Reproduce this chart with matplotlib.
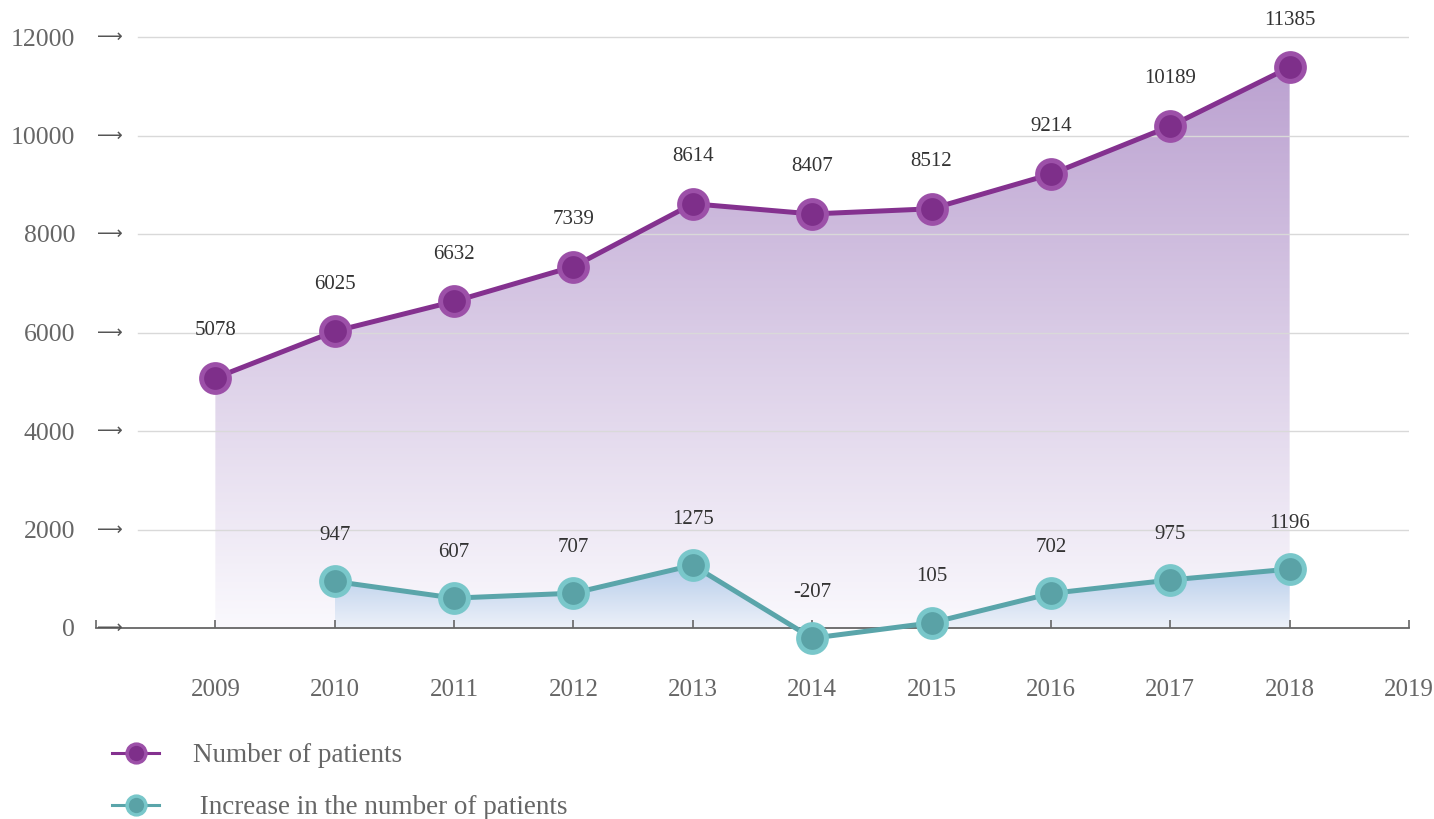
import numpy as np
import matplotlib
matplotlib.use("Agg")
import matplotlib.pyplot as plt
from matplotlib.colors import to_rgba
from matplotlib.lines import Line2D
import matplotlib.transforms as mtransforms

plt.rcParams['font.family'] = ['Liberation Serif', 'DejaVu Serif']

years = [2009, 2010, 2011, 2012, 2013, 2014, 2015, 2016, 2017, 2018]
patients = [5078, 6025, 6632, 7339, 8614, 8407, 8512, 9214, 10189, 11385]
inc_years = [2010, 2011, 2012, 2013, 2014, 2015, 2016, 2017, 2018]
increase = [947, 607, 707, 1275, -207, 105, 702, 975, 1196]
x_ticks = list(range(2008, 2020))
x_labels = [''] + [str(y) for y in range(2009, 2020)]
y_ticks = [0, 2000, 4000, 6000, 8000, 10000, 12000]

purple_line = '#84318f'
purple_face = '#7e2f8a'
purple_edge = '#9c50a8'
teal_line = '#5aa5aa'
teal_face = '#5aa2a6'
teal_edge = '#79c7ca'

W, H = 1434, 819
fig = plt.figure(figsize=(W / 100, H / 100), dpi=100)
ax = fig.add_axes([96 / W, 141.75 / H, 1313 / W, (811.55 - 141.75) / H])
ax.set_xlim(2008, 2019)
ax.set_ylim(-1000, 12600)


def gradient_fill(x, y, top, bottom, ytop, z):
    poly = ax.fill_between(x, y, 0, color='none', lw=0)
    c1 = np.array(to_rgba(bottom))
    c2 = np.array(to_rgba(top))
    t = np.linspace(0, 1, 256)[:, None]
    grad = (c1 + (c2 - c1) * t)[:, None, :]
    img = ax.imshow(grad, extent=[min(x), max(x), 0, ytop], aspect='auto',
                    origin='lower', zorder=z, interpolation='bilinear')
    img.set_clip_path(poly.get_paths()[0], ax.transData)


gradient_fill(years, patients, '#b89dce', '#faf9fd', 12000, 1)
gradient_fill(inc_years, increase, '#b2cae9', '#edf1f9', 1350, 1.2)
ax.set_xlim(2008, 2019)
ax.set_ylim(-1000, 12600)

for v in y_ticks[1:]:
    ax.axhline(v, xmin=42 / 1313, xmax=1, color='#d9d9d9', lw=1, zorder=1.5)

ax.plot(years, patients, color=purple_line, lw=3.6, marker='o', ms=20,
        mfc=purple_face, mec=purple_edge, mew=3.6, zorder=4)
ax.plot(inc_years, increase, color=teal_line, lw=3.6, marker='o', ms=20,
        mfc=teal_face, mec=teal_edge, mew=3.6, zorder=4)

for x, v in zip(years, patients):
    ax.annotate(str(v), (x, v), xytext=(0, 34), textcoords='offset points',
                ha='center', va='center', fontsize=15, color='#333333')
for x, v in zip(inc_years, increase):
    ax.annotate(str(v), (x, v), xytext=(0, 33), textcoords='offset points',
                ha='center', va='center', fontsize=15, color='#333333')

for s in ['top', 'right', 'left']:
    ax.spines[s].set_visible(False)
ax.spines['bottom'].set_position(('data', 0))
ax.spines['bottom'].set_color('#666666')
ax.spines['bottom'].set_linewidth(1.3)

ax.set_xticks(x_ticks, x_labels)
ax.tick_params(axis='x', direction='in', length=6, width=1.2, color='#666666',
               pad=37, labelsize=18, labelcolor='#666666')
ax.set_yticks(y_ticks, [str(v) for v in y_ticks])
ax.tick_params(axis='y', length=0, pad=15, labelsize=18.5, labelcolor='#666666')

trans = mtransforms.blended_transform_factory(ax.transAxes, ax.transData)
for v in y_ticks:
    ax.text(14 / 1313, v, '⟶', transform=trans, ha='center', va='center',
            fontsize=13, color='#555555', family='DejaVu Sans')

handles = [
    Line2D([], [], color=purple_line, lw=2.2, marker='o', ms=13.5,
           mfc=purple_face, mec=purple_edge, mew=2.5),
    Line2D([], [], color=teal_line, lw=2.2, marker='o', ms=13.5,
           mfc=teal_face, mec=teal_edge, mew=2.5),
]
fig.legend(handles, ['Number of patients', ' Increase in the number of patients'],
           loc='upper left', bbox_to_anchor=(112 / W, 1 - 743 / H), frameon=False,
           fontsize=19.5, labelcolor='#666666', handlelength=1.75, handletextpad=1.25,
           labelspacing=1.0, borderaxespad=0, borderpad=0)

fig.savefig('out.png', dpi=100)
